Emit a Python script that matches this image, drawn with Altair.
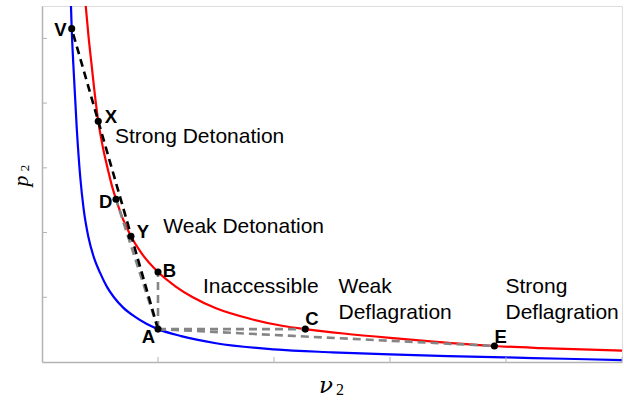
import altair as alt
import pandas as pd

# Reactive Hugoniot (red): specific volume v2 and pressure p2
hugoniot_v = [0.372, 0.40, 0.43, 0.45, 0.485, 0.53, 0.57, 0.60, 0.638, 0.70, 0.767,
              0.85, 1.00, 1.15, 1.30, 1.50, 1.80, 2.08, 2.27, 2.60, 3.00, 3.40,
              3.90, 4.30, 5.00]
hugoniot_p = [5.60, 5.05, 4.55, 4.22, 3.72, 3.27, 2.96, 2.74, 2.515, 2.20, 1.944,
              1.70, 1.39, 1.17, 1.00, 0.83, 0.665, 0.556, 0.508, 0.44, 0.372, 0.312,
              0.247, 0.215, 0.175]

# Shock Hugoniot of the unreacted state (blue)
shock_v = [0.248, 0.256, 0.27, 0.30, 0.33, 0.36, 0.40, 0.45, 0.50, 0.56, 0.62, 0.70,
           0.80, 0.90, 1.00, 1.20, 1.50, 2.00, 2.50, 3.00, 3.50, 4.00, 4.50, 5.00]
shock_p = [5.60, 5.15, 4.60, 3.60, 2.85, 2.35, 1.93, 1.60, 1.38, 1.16, 1.00, 0.84,
           0.70, 0.59, 0.508, 0.40, 0.29, 0.195, 0.15, 0.117, 0.092, 0.071, 0.05, 0.03]

# Named states
point_names = ["V", "X", "D", "Y", "B", "A", "C", "E"]
point_v = [0.256, 0.485, 0.638, 0.767, 1.0, 1.0, 2.27, 3.90]
point_p = [5.15, 3.72, 2.515, 1.944, 1.39, 0.508, 0.508, 0.247]

# Rayleigh lines from the initial state A
black_targets = ["V"]
grey_targets = ["D", "B", "C", "E"]

tick_values_v = [1, 2, 3, 4, 5]
tick_values_p = [1, 2, 3, 4, 5]

W, H = 580, 356
xs = alt.Scale(domain=[0, 5], nice=False, zero=False)
ys = alt.Scale(domain=[0, 5.5], nice=False, zero=False)
ax_x = alt.Axis(title=None, labels=False, ticks=False, grid=False,
                domainColor="#b3b3b3", domainWidth=1.5)
ax_y = alt.Axis(title=None, labels=False, ticks=False, grid=False,
                domainColor="#b3b3b3", domainWidth=1.5)

pts = pd.DataFrame({"name": point_names, "v": point_v, "p": point_p})
lookup = dict(zip(point_names, zip(point_v, point_p)))
a_v, a_p = lookup["A"]


def rays(targets):
    return pd.DataFrame({
        "v0": [a_v] * len(targets),
        "p0": [a_p] * len(targets),
        "v1": [lookup[t][0] for t in targets],
        "p1": [lookup[t][1] for t in targets],
    })


red = alt.Chart(pd.DataFrame({"v": hugoniot_v, "p": hugoniot_p})).mark_line(
    color="#ff0000", strokeWidth=2.2, interpolate="monotone", clip=True
).encode(x=alt.X("v:Q", scale=xs, axis=ax_x), y=alt.Y("p:Q", scale=ys, axis=ax_y))

blue = alt.Chart(pd.DataFrame({"v": shock_v, "p": shock_p})).mark_line(
    color="#0000ff", strokeWidth=2.2, interpolate="monotone", clip=True
).encode(x=alt.X("v:Q", scale=xs), y=alt.Y("p:Q", scale=ys))

grey_rays = alt.Chart(rays(grey_targets)).mark_rule(
    color="#858585", strokeWidth=2.6, strokeDash=[8, 5]
).encode(x=alt.X("v0:Q", scale=xs), y=alt.Y("p0:Q", scale=ys), x2="v1:Q", y2="p1:Q")

black_rays = alt.Chart(rays(black_targets)).mark_rule(
    color="#000000", strokeWidth=2.6, strokeDash=[8, 5]
).encode(x=alt.X("v0:Q", scale=xs), y=alt.Y("p0:Q", scale=ys), x2="v1:Q", y2="p1:Q")

dots = alt.Chart(pts).mark_circle(size=50, color="black", opacity=1).encode(
    x=alt.X("v:Q", scale=xs), y=alt.Y("p:Q", scale=ys)
)

# Inward tick marks on both axes
x_ticks = alt.Chart(pd.DataFrame({"v": tick_values_v})).mark_rule(
    color="#b3b3b3", strokeWidth=1
).encode(x=alt.X("v:Q", scale=xs), y=alt.value(H), y2=alt.value(H - 5))

y_ticks = alt.Chart(pd.DataFrame({"p": tick_values_p})).mark_rule(
    color="#b3b3b3", strokeWidth=1
).encode(y=alt.Y("p:Q", scale=ys), x=alt.value(0), x2=alt.value(5))

# Point letters: (name, align, dx, dy)
letter_style = [
    ("V", "right", -5, 7.7),
    ("X", "left", 6.5, 1.8),
    ("D", "right", -3.6, 8.7),
    ("Y", "left", 5.7, 2.3),
    ("B", "left", 4.7, 4.8),
    ("A", "right", -3, 14.2),
    ("C", "left", 0, -4.1),
    ("E", "left", 0, -3.3),
]
letters = []
for name, align, dx, dy in letter_style:
    letters.append(
        alt.Chart(pts).transform_filter(alt.datum.name == name).mark_text(
            align=align, baseline="alphabetic", dx=dx, dy=dy,
            font="Liberation Sans", fontWeight="bold", fontSize=18.5, color="black"
        ).encode(x=alt.X("v:Q", scale=xs), y=alt.Y("p:Q", scale=ys), text="name:N")
    )

anchor = pd.DataFrame({"k": [0]})


def note(text, x, y, size=21, font="Liberation Sans", style="normal", angle=0,
         align="left", line_height=26.6):
    props = dict(align=align, baseline="alphabetic", font=font, fontSize=size,
                 fontStyle=style, color="black", lineHeight=line_height)
    if angle:
        props["angle"] = angle
    return alt.Chart(anchor).mark_text(**props).encode(
        x=alt.value(x), y=alt.value(y), text=alt.value(text)
    )


regions = [
    note("Strong Detonation", 73, 137),
    note("Weak Detonation", 121.3, 227.3),
    note("Inaccessible", 161, 287.3),
    note(["Weak", "Deflagration"], 296.5, 286.7),
    note(["Strong", "Deflagration"], 463.5, 286.7),
]

titles = [
    note("p", -14, 175, size=22, font="Liberation Serif", style="italic",
         angle=270, align="center"),
    note("2", -13, 162, size=13, font="Liberation Serif", angle=270, align="center"),
    note("ν", 277, 387, size=23, font="DejaVu Serif", style="italic"),
    note("2", 294, 389, size=16, font="Liberation Serif"),
]

chart = alt.layer(
    red, blue, grey_rays, black_rays, x_ticks, y_ticks, dots,
    *letters, *regions, *titles
).properties(
    width=W, height=H,
    autosize=alt.AutoSizeParams(type="none"),
    padding={"left": 42, "top": 6, "right": 2, "bottom": 38},
).configure_view(stroke=None).configure(background="white")

chart.save("out.html", embed_options={"renderer": "svg", "actions": False})
